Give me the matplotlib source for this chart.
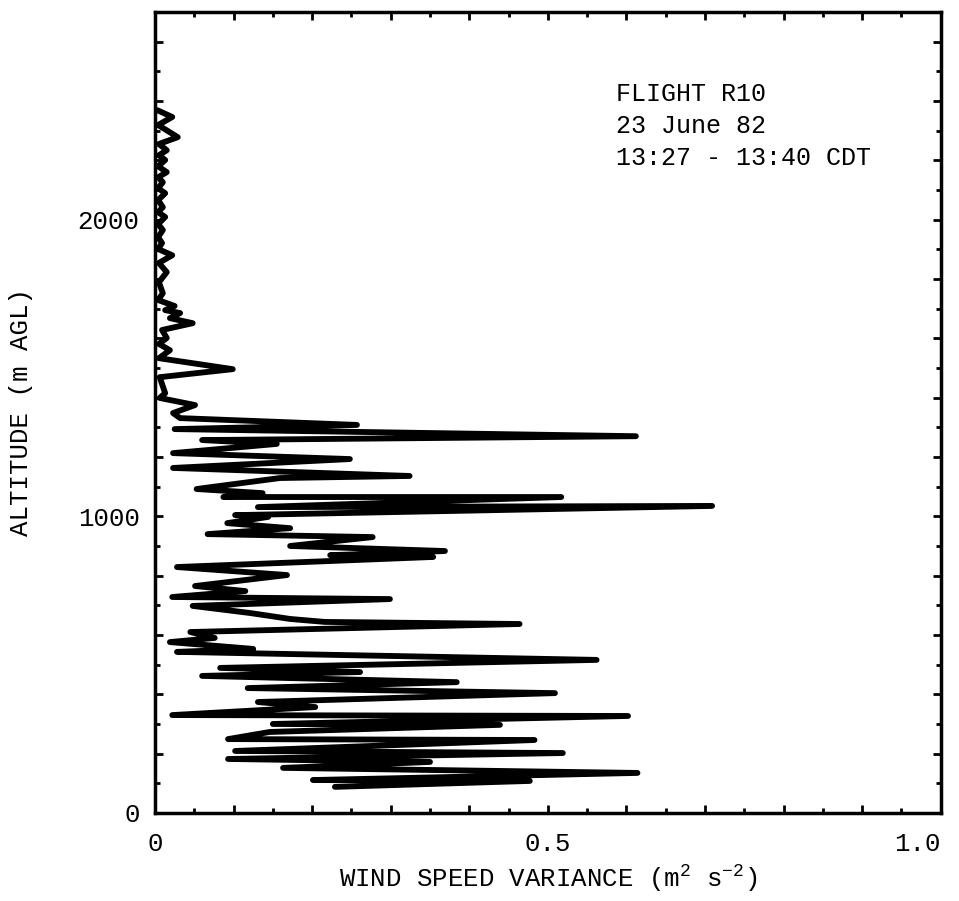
import matplotlib
matplotlib.use("Agg")
import matplotlib.pyplot as plt
from matplotlib.ticker import MultipleLocator, FuncFormatter

plt.rcParams['font.family'] = ['Liberation Mono', 'DejaVu Sans']
plt.rcParams['mathtext.fontset'] = 'custom'
plt.rcParams['mathtext.rm'] = 'Liberation Mono'

# wind speed variance (m2 s-2) and altitude (m AGL) top to bottom
variance = [0.003, 0.022, 0.004, 0.029, 0.005, 0.015, 0.005, 0.013, 0.004, 0.015,
            0.004, 0.010, 0.004, 0.013, 0.004, 0.010, 0.004, 0.013, 0.004, 0.010,
            0.004, 0.009, 0.004, 0.022, 0.005, 0.015, 0.005, 0.010, 0.004, 0.025,
            0.013, 0.032, 0.019, 0.048, 0.009, 0.015, 0.005, 0.019, 0.005, 0.099,
            0.006, 0.013, 0.006, 0.051, 0.023, 0.032, 0.257, 0.025, 0.612, 0.060,
            0.155, 0.023, 0.248, 0.023, 0.324, 0.159, 0.053, 0.137, 0.087, 0.517,
            0.131, 0.709, 0.102, 0.144, 0.092, 0.172, 0.067, 0.277, 0.172, 0.369,
            0.223, 0.354, 0.028, 0.168, 0.051, 0.115, 0.022, 0.299, 0.048, 0.121,
            0.172, 0.216, 0.464, 0.045, 0.076, 0.019, 0.125, 0.028, 0.562, 0.083,
            0.261, 0.060, 0.384, 0.118, 0.509, 0.131, 0.204, 0.022, 0.602, 0.150,
            0.439, 0.146, 0.093, 0.483, 0.102, 0.519, 0.093, 0.350, 0.163, 0.614,
            0.201, 0.477, 0.229]
altitude = [2369, 2346, 2319, 2278, 2255, 2234, 2217, 2201, 2180, 2160,
            2143, 2126, 2106, 2089, 2066, 2042, 2025, 2009, 1985, 1965,
            1941, 1921, 1901, 1880, 1854, 1823, 1789, 1752, 1729, 1709,
            1695, 1685, 1668, 1651, 1628, 1601, 1581, 1560, 1533, 1496,
            1469, 1415, 1399, 1375, 1348, 1331, 1308, 1294, 1270, 1257,
            1244, 1213, 1193, 1163, 1136, 1129, 1092, 1078, 1065, 1065,
            1031, 1035, 1004, 998, 977, 960, 940, 930, 900, 883,
            869, 863, 829, 802, 765, 748, 728, 721, 698, 674,
            654, 644, 637, 610, 590, 576, 553, 543, 516, 489,
            475, 462, 441, 421, 404, 374, 357, 330, 327, 300,
            297, 273, 249, 246, 209, 202, 182, 172, 152, 135,
            111, 108, 88]

x_labels = {0.0: "0", 0.5: "0.5", 1.0: "1.0"}
y_labels = {0: "0", 1000: "1000", 2000: "2000"}

fig = plt.figure(figsize=(9.59, 9.01), dpi=100)
ax = fig.add_axes([0.1616, 0.0977, 0.8194, 0.889])

ax.plot(variance, altitude, color="black", lw=4.2, solid_capstyle="round",
        solid_joinstyle="round")

ax.set_xlim(0, 1.0)
ax.set_ylim(0, 2700)

ax.xaxis.set_major_locator(MultipleLocator(0.1))
ax.xaxis.set_minor_locator(MultipleLocator(0.05))
ax.yaxis.set_major_locator(MultipleLocator(200))
ax.yaxis.set_minor_locator(MultipleLocator(100))
ax.xaxis.set_major_formatter(FuncFormatter(lambda v, p: x_labels.get(round(v, 2), "")))
ax.yaxis.set_major_formatter(FuncFormatter(lambda v, p: y_labels.get(int(round(v)), "")))

ax.tick_params(which="both", direction="in", top=True, right=True, width=2,
               labelsize=18.5)
ax.tick_params(which="major", length=6)
ax.tick_params(which="minor", length=3.6)
ax.tick_params(axis="x", pad=14)
ax.tick_params(axis="y", pad=11)
for s in ax.spines.values():
    s.set_linewidth(2.5)

ax.set_xlabel(r"WIND SPEED VARIANCE (m$^{2}$ s$^{-2}$)", fontsize=18.5, labelpad=4)
ax.set_ylabel("ALTITUDE (m AGL)", fontsize=18.5, labelpad=32)

ax.text(0.587, 0.912, "FLIGHT R10\n23 June 82\n13:27 - 13:40 CDT",
        transform=ax.transAxes, fontsize=18, va="top", ha="left",
        linespacing=1.4)

fig.canvas.draw()
for lab in ax.get_xticklabels():
    if lab.get_text() == "1.0":
        lab.set_ha("right")

fig.savefig("out.png", dpi=100)
